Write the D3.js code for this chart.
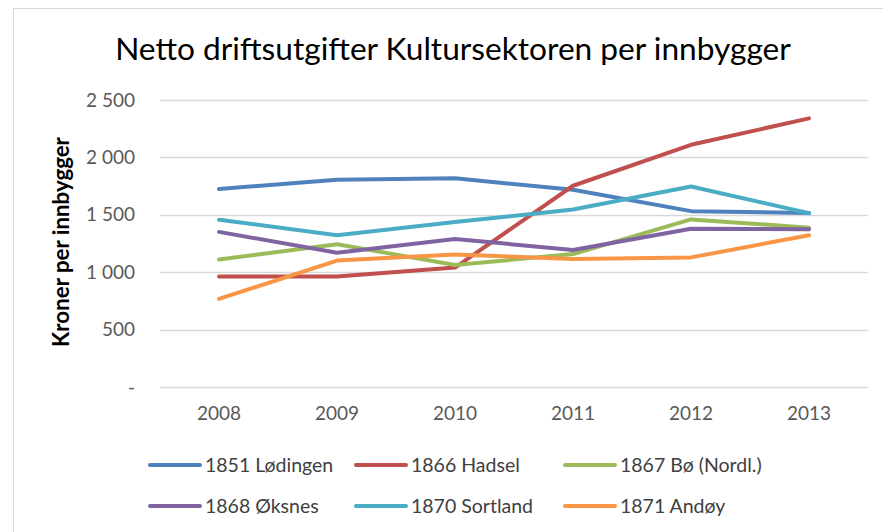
<!DOCTYPE html>
<html>
<head>
<meta charset="utf-8">
<script src="https://cdnjs.cloudflare.com/ajax/libs/d3/7.8.5/d3.min.js"></script>
<style>
  body { margin: 0; background: #fff; }
  svg { display: block; font-family: Lato, "Open Sans", sans-serif; }
</style>
</head>
<body>
<svg></svg>
<script>
const years = ['2008', '2009', '2010', '2011', '2012', '2013'];
const names = ['1851 Lødingen', '1866 Hadsel', '1867 Bø (Nordl.)', '1868 Øksnes', '1870 Sortland', '1871 Andøy'];
const colors = ['#4F81BD', '#C0504D', '#9BBB59', '#8064A2', '#4BACC6', '#F79646'];
const lodingen = [1725, 1805, 1818, 1718, 1532, 1515];
const hadsel = [963, 963, 1040, 1753, 2110, 2340];
const bo = [1110, 1244, 1063, 1158, 1460, 1388];
const oksnes = [1351, 1170, 1290, 1193, 1379, 1375];
const sortland = [1457, 1322, 1437, 1546, 1747, 1514];
const andoy = [767, 1101, 1155, 1115, 1129, 1322];
const yTicks = [0, 500, 1000, 1500, 2000, 2500];

const seriesValues = [lodingen, hadsel, bo, oksnes, sortland, andoy];

// shrink or grow a text so it covers the given width
function fitWidth(sel, size, target) {
  const w = sel.node().getComputedTextLength();
  sel.style('font-size', (size * target / w).toFixed(2) + 'px');
}

function drawChart() {
  const width = 883;
  const height = 532;

  const svg = d3.select('svg').attr('width', width).attr('height', height);

  // chart area frame
  svg.append('rect')
    .attr('x', 13.5).attr('y', 8.5)
    .attr('width', 900).attr('height', 600)
    .attr('fill', '#fff')
    .attr('stroke', '#d9d9d9');

  const x = d3.scalePoint().domain(years).range([160, 868]).padding(0.5);
  const y = d3.scaleLinear().domain([0, 2500]).range([387, 100]);

  // gridlines
  svg.append('g')
    .selectAll('line')
    .data(yTicks)
    .join('line')
    .attr('x1', 160).attr('x2', 868)
    .attr('y1', (d) => Math.round(y(d)) + 0.5)
    .attr('y2', (d) => Math.round(y(d)) + 0.5)
    .attr('stroke', '#d9d9d9')
    .attr('stroke-width', 1.5);

  // y axis labels
  svg.append('g')
    .selectAll('text')
    .data(yTicks)
    .join('text')
    .attr('x', 135)
    .attr('y', (d) => y(d))
    .attr('dy', '0.35em')
    .attr('text-anchor', 'end')
    .attr('fill', '#595959')
    .style('font-size', '19px')
    .text((d) => (d === 0 ? '-' : d3.format(',')(d).replace(',', ' ')));

  // x axis labels
  svg.append('g')
    .selectAll('text')
    .data(years)
    .join('text')
    .attr('x', (d) => x(d))
    .attr('y', 420)
    .attr('text-anchor', 'middle')
    .attr('fill', '#595959')
    .style('font-size', '19px')
    .text((d) => d);

  // y axis title
  const yTitle = svg.append('text')
    .attr('transform', 'translate(69, 242) rotate(-90)')
    .attr('text-anchor', 'middle')
    .attr('fill', '#000')
    .style('font-size', '19px')
    .style('font-weight', 'bold')
    .text('Kroner per innbygger');
  fitWidth(yTitle, 19, 210);

  // title
  const title = svg.append('text')
    .attr('x', 453)
    .attr('y', 60)
    .attr('text-anchor', 'middle')
    .attr('fill', '#000')
    .style('font-size', '26px')
    .text('Netto driftsutgifter Kultursektoren per innbygger');
  fitWidth(title, 26, 676);

  // lines
  const line = d3.line()
    .x((d, i) => x(years[i]))
    .y((d) => y(d));

  svg.append('g')
    .selectAll('path')
    .data(seriesValues)
    .join('path')
    .attr('d', line)
    .attr('fill', 'none')
    .attr('stroke', (d, i) => colors[i])
    .attr('stroke-width', 4)
    .attr('stroke-linejoin', 'round')
    .attr('stroke-linecap', 'round');

  // legend
  const colX = [150, 356, 565];
  const rowY = [465, 506];
  const legend = svg.append('g')
    .selectAll('g')
    .data(names)
    .join('g')
    .attr('transform', (d, i) => 'translate(' + colX[i % 3] + ',' + rowY[Math.floor(i / 3)] + ')');

  legend.append('line')
    .attr('x1', 0).attr('x2', 50)
    .attr('stroke', (d, i) => colors[i])
    .attr('stroke-width', 4)
    .attr('stroke-linecap', 'round');

  legend.append('text')
    .attr('x', 55)
    .attr('dy', '0.35em')
    .attr('fill', '#404040')
    .style('font-size', '19.5px')
    .text((d) => d);
}

drawChart();
</script>
</body>
</html>
